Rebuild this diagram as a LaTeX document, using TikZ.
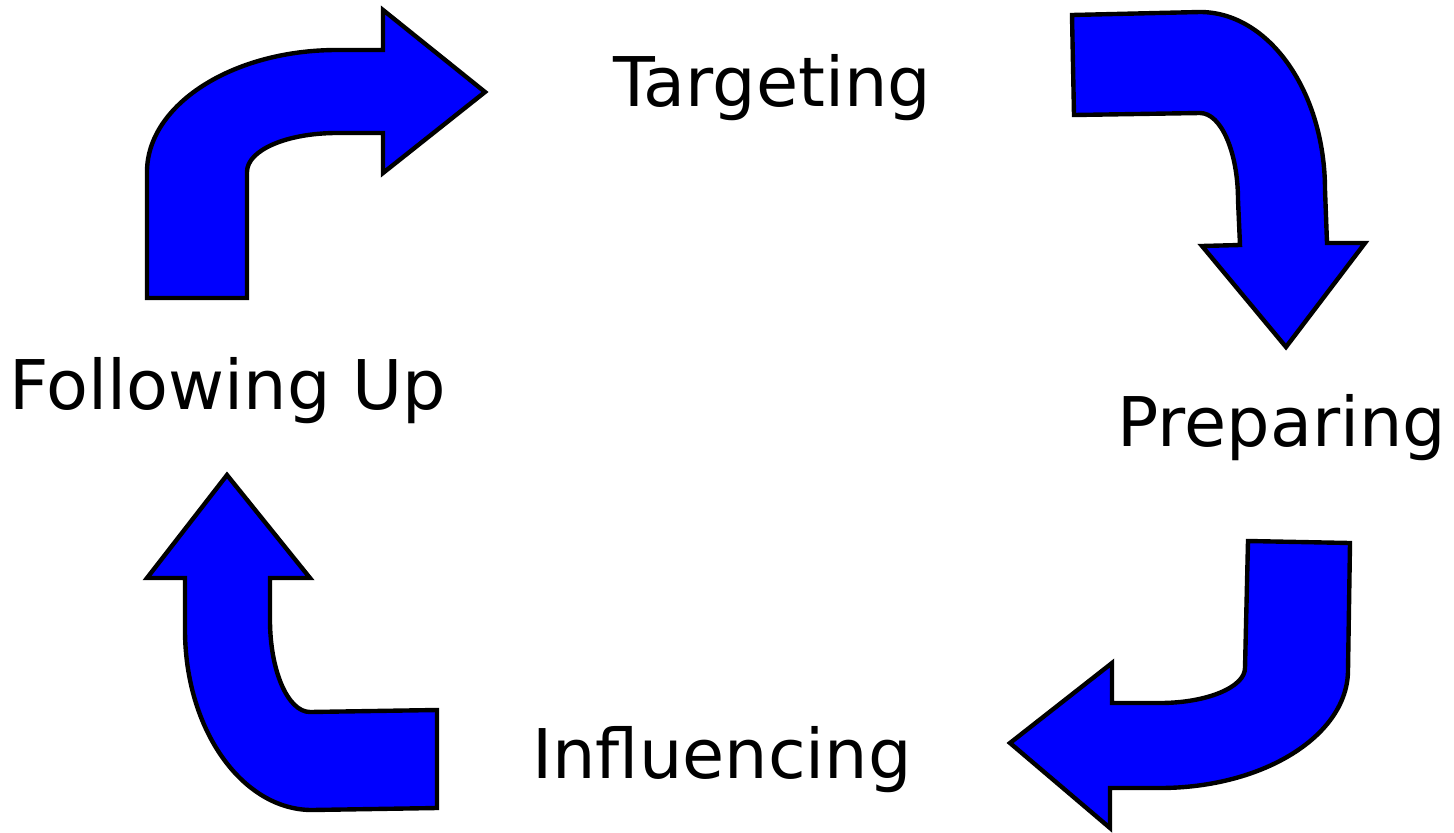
\documentclass[tikz,border=0pt]{standalone}
\usepackage{fontspec}
\setmainfont{DejaVu Sans}

\begin{document}
\begin{tikzpicture}
	[x=0.02cm,y=-0.02cm,line join=miter,
		arrow shape/.style={draw=black,fill=blue,line width=2.5pt},
		phase/.style={font=\fontsize{39}{44}\selectfont,inner sep=0pt}]

	\useasboundingbox (0,0) rectangle (1454,832);

	% top left: following up -> targeting
	\draw[arrow shape] (147,298) -- (247,298) -- (247,172)
		.. controls (247,150) and (287,133) .. (337,133)
		-- (383,133) -- (383,173) -- (485,92) -- (383,10) -- (383,50) -- (337,50)
		.. controls (232,50) and (147,105) .. (147,172) -- cycle;

	% top right: targeting -> preparing
	\draw[arrow shape] (1072,15) -- (1200,12)
		.. controls (1269,12) and (1325,92) .. (1325,190)
		-- (1327,243) -- (1365,243) -- (1286,347) -- (1202,246) -- (1240,245) -- (1238,200)
		.. controls (1238,152) and (1221,113) .. (1200,113)
		-- (1074,115) -- cycle;

	% bottom right: preparing -> influencing
	\draw[arrow shape] (1248,541) -- (1350,543) -- (1348,670)
		.. controls (1348,735) and (1264,788) .. (1160,788)
		-- (1110,788) -- (1110,828) -- (1010,743) -- (1112,663) -- (1112,703) -- (1160,703)
		.. controls (1207,703) and (1245,687) .. (1245,668) -- cycle;

	% bottom left: influencing -> following up
	\draw[arrow shape] (437,808) -- (312,810)
		.. controls (242,810) and (185,729) .. (185,630)
		-- (185,578) -- (147,578) -- (227,475) -- (310,578) -- (270,578) -- (270,620)
		.. controls (270,671) and (288,712) .. (310,712)
		-- (437,710) -- cycle;

	\node[phase] (targeting)   at (772,88)  {Targeting};
	\node[phase] (preparing)   at (1282,428) {Preparing};
	\node[phase] (influencing) at (722,760) {Influencing};
	\node[phase] (followup)    at (228,391) {Following Up};

\end{tikzpicture}
\end{document}
